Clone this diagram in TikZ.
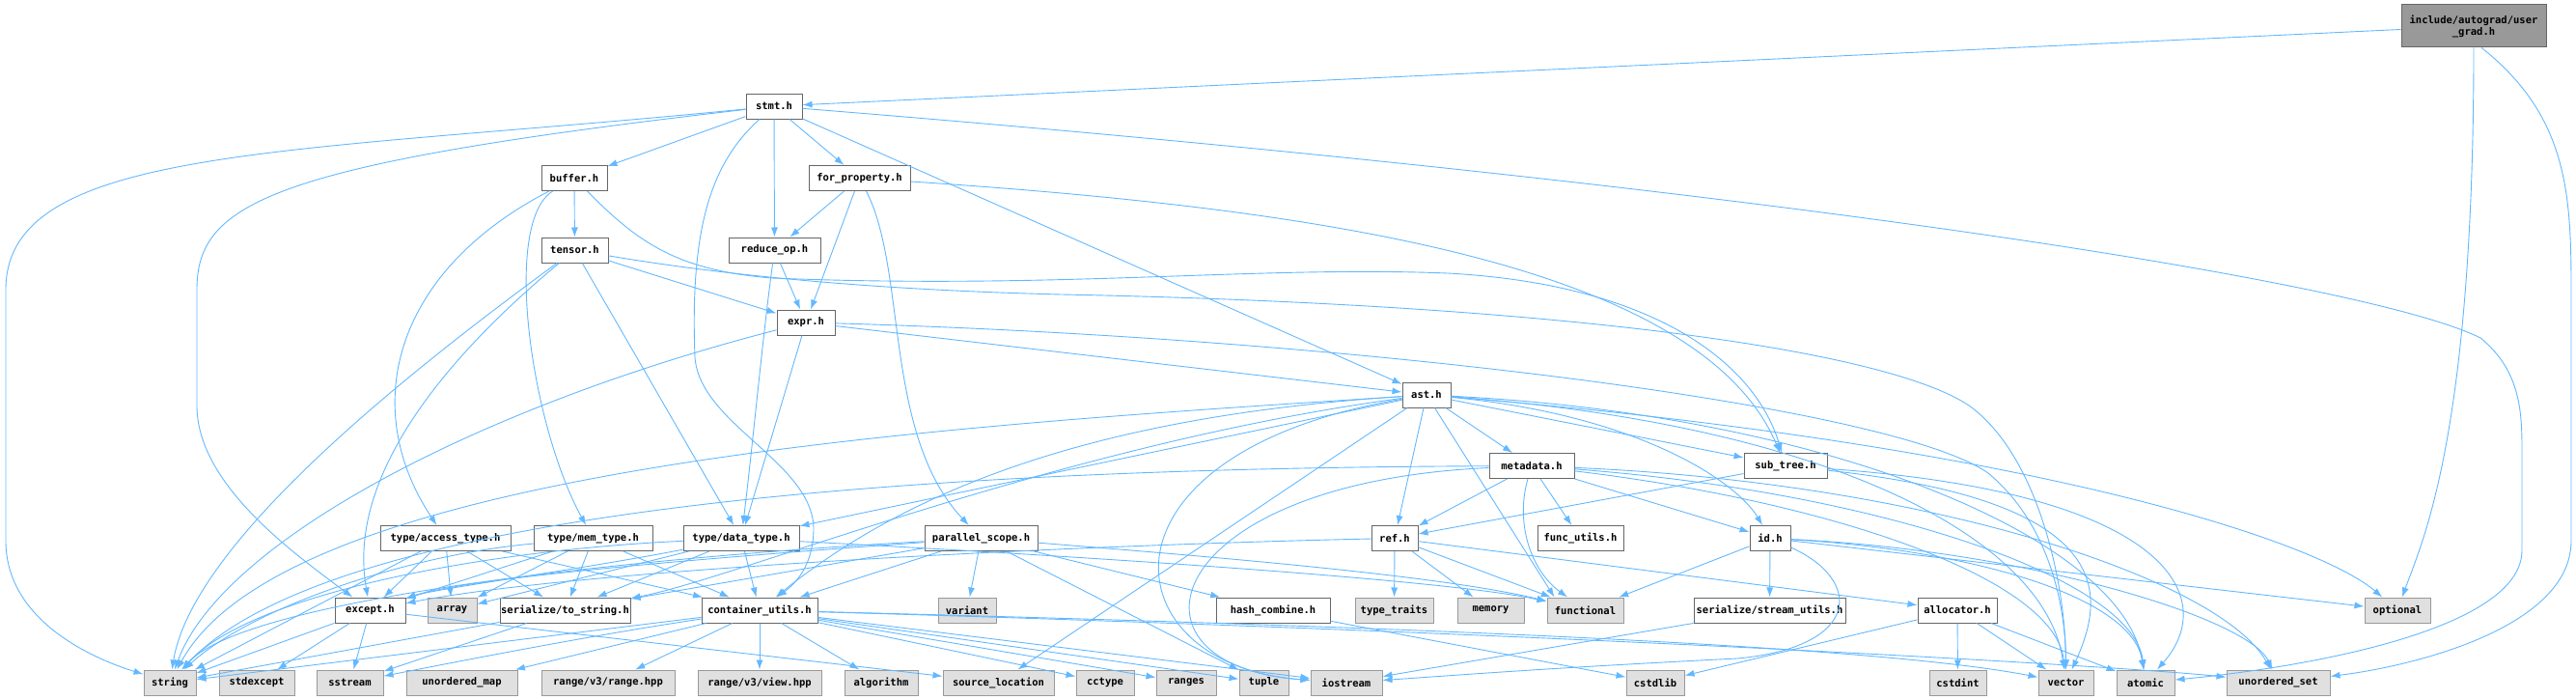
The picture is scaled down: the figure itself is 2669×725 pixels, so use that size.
\documentclass[tikz,border=0pt]{standalone}
\usepackage{fontspec}
\usetikzlibrary{arrows.meta}
\newfontfamily\dmono{DejaVu Sans Mono}
\definecolor{eblue}{HTML}{63B8FF}
\definecolor{bord}{HTML}{666666}
\definecolor{extb}{HTML}{999999}
\definecolor{extf}{HTML}{E0E0E0}
\begin{document}
\begin{tikzpicture}[x=1pt,y=-1pt,
  box/.style={draw=bord,fill=white,line width=1pt,inner sep=0pt,minimum height=26pt,
    font=\dmono\bfseries\fontsize{10.5}{12}\selectfont},
  ext/.style={box,draw=extb,fill=extf},
  rootbox/.style={box,fill=extb,draw=bord,align=center,minimum height=44pt,minimum width=150pt},
  e/.style={draw=eblue,line width=0.9pt,-{Latex[length=10pt,width=7pt]}}]
\useasboundingbox (0,0) rectangle (2669,725);
% nodes
\node[rootbox] (ug) at (2563,27) {include/autograd/user\\\_grad.h};
\node[box,minimum width=58pt] (stmt) at (802,110) {stmt.h};
\node[box,minimum width=68pt] (buffer) at (595,184.5) {buffer.h};
\node[box,minimum width=105pt] (fp) at (890.5,184.5) {for\_property.h};
\node[box,minimum width=69pt] (tensor) at (595.5,259) {tensor.h};
\node[box,minimum width=95pt] (reduce) at (802.5,259) {reduce\_op.h};
\node[box,minimum width=60pt] (expr) at (835,334) {expr.h};
\node[box,minimum width=50pt] (ast) at (1478,409) {ast.h};
\node[box,minimum width=88pt] (meta) at (1587,482.5) {metadata.h};
\node[box,minimum width=86pt] (subtree) at (1850,482.5) {sub\_tree.h};
\node[box,minimum width=135pt] (at) at (461.5,557.5) {type/access\_type.h};
\node[box,minimum width=123pt] (mt) at (614.5,557.5) {type/mem\_type.h};
\node[box,minimum width=120pt] (dt) at (768,557.5) {type/data\_type.h};
\node[box,minimum width=117pt] (ps) at (1016.5,557.5) {parallel\_scope.h};
\node[box,minimum width=48pt] (ref) at (1445,557.5) {ref.h};
\node[box,minimum width=89pt] (fu) at (1637.5,557.5) {func\_utils.h};
\node[box,minimum width=42pt] (id) at (1834,557.5) {id.h};
\node[box,minimum width=73pt] (except) at (383.5,632) {except.h};
\node[ext,minimum width=51pt] (array) at (468.5,632) {array};
\node[box,minimum width=135pt] (tostr) at (585.5,632) {serialize/to\_string.h};
\node[box,minimum width=120pt] (cu) at (787,632) {container\_utils.h};
\node[ext,minimum width=60pt] (variant) at (1002,632) {variant};
\node[box,minimum width=118pt] (hash) at (1319,632) {hash\_combine.h};
\node[ext,minimum width=81pt] (tt) at (1444.5,632) {type\_traits};
\node[ext,minimum width=69pt] (memory) at (1544.5,632) {memory};
\node[ext,minimum width=79pt] (functional) at (1642.5,632) {functional};
\node[box,minimum width=157pt] (su) at (1833.5,632) {serialize/stream\_utils.h};
\node[box,minimum width=82pt] (alloc) at (2028,632) {allocator.h};
\node[ext,minimum width=68pt] (optional) at (2484,632) {optional};
\node[ext,minimum width=54pt] (string) at (176,707) {string};
\node[ext,minimum width=78pt] (stdexcept) at (266,707) {stdexcept};
\node[ext,minimum width=69pt] (sstream) at (362.5,707) {sstream};
\node[ext,minimum width=115pt] (umap) at (478.5,707) {unordered\_map};
\node[ext,minimum width=138pt] (rangehpp) at (630,707) {range/v3/range.hpp};
\node[ext,minimum width=128pt] (viewhpp) at (787,707) {range/v3/view.hpp};
\node[ext,minimum width=76pt] (algorithm) at (913,707) {algorithm};
\node[ext,minimum width=115pt] (srcloc) at (1034.5,707) {source\_location};
\node[ext,minimum width=60pt] (cctype) at (1145,707) {cctype};
\node[ext,minimum width=62pt] (ranges) at (1229,707) {ranges};
\node[ext,minimum width=51pt] (tuple) at (1309.5,707) {tuple};
\node[ext,minimum width=74pt] (iostream) at (1395,707) {iostream};
\node[ext,minimum width=60pt] (cstdlib) at (1715,707) {cstdlib};
\node[ext,minimum width=59pt] (cstdint) at (2028.5,707) {cstdint};
\node[ext,minimum width=57pt] (vector) at (2140.5,707) {vector};
\node[ext,minimum width=60pt] (atomic) at (2223,707) {atomic};
\node[ext,minimum width=107pt] (uset) at (2360.5,707) {unordered\_set};
% edges: user_grad
\draw[e] (ug) -- (stmt);
\draw[e] (ug.south) .. controls (2563,450) and (2510,560) .. (optional);
\draw[e] (ug.-70) .. controls (2660,120) and (2664,200) .. (2664,300) -- (2664,560) .. controls (2664,650) and (2500,690) .. (uset);
% stmt
\draw[e] (stmt) .. controls (300,160) and (6,150) .. (6,300) -- (6,560) .. controls (6,640) and (90,680) .. (string);
\draw[e] (stmt) .. controls (280,170) and (204,210) .. (204,300) -- (204,420) .. controls (204,500) and (300,570) .. (except);
\draw[e] (stmt) -- (buffer);
\draw[e] (stmt) -- (fp);
\draw[e] (stmt) -- (reduce);
\draw[e] (stmt) -- (ast);
\draw[e] (stmt) .. controls (735,170) and (715,240) .. (720,370) .. controls (725,440) and (845,480) .. (843,550) .. controls (842,580) and (830,600) .. (cu);
\draw[e] (stmt) .. controls (1800,190) and (2450,290) .. (2570,350) .. controls (2613,385) and (2613,430) .. (2613,470) -- (2613,570) .. controls (2613,650) and (2400,690) .. (atomic);
% buffer
\draw[e] (buffer) -- (tensor);
\draw[e] (buffer) .. controls (410,280) and (370,420) .. (at);
\draw[e] (buffer) .. controls (520,230) and (550,440) .. (mt);
\draw[e] (buffer) .. controls (660,250) and (700,280) .. (800,288) .. controls (1100,300) and (1300,275) .. (1500,283) .. controls (1720,295) and (1820,380) .. (subtree);
% for_property
\draw[e] (fp) -- (reduce);
\draw[e] (fp) -- (expr);
\draw[e] (fp) .. controls (940,280) and (915,450) .. (ps);
\draw[e] (fp) .. controls (1350,215) and (1760,270) .. (subtree);
% tensor
\draw[e] (tensor) -- (expr);
\draw[e] (tensor) .. controls (430,380) and (200,560) .. (string);
\draw[e] (tensor) .. controls (450,380) and (360,500) .. (except);
\draw[e] (tensor) -- (dt);
\draw[e] (tensor) .. controls (750,285) and (900,300) .. (1100,305) .. controls (1600,315) and (1950,360) .. (2040,420) .. controls (2110,470) and (2140,600) .. (vector);
% reduce_op
\draw[e] (reduce) -- (expr);
\draw[e] (reduce) .. controls (790,350) and (780,460) .. (dt);
% expr
\draw[e] (expr) -- (ast);
\draw[e] (expr) .. controls (500,420) and (230,560) .. (string);
\draw[e] (expr) -- (dt);
\draw[e] (expr) .. controls (1400,350) and (1960,420) .. (2060,490) .. controls (2120,540) and (2140,620) .. (vector);
% ast
\draw[e] (ast) -- (meta);
\draw[e] (ast) -- (ref);
\draw[e] (ast) .. controls (1700,430) and (1800,500) .. (id);
\draw[e] (ast) -- (subtree);
\draw[e] (ast) -- ([xshift=8pt]functional.north west);
\draw[e] (ast) -- (srcloc);
\draw[e] (ast) .. controls (1120,470) and (1150,690) .. (iostream);
\draw[e] (ast) .. controls (1000,440) and (300,480) .. (string);
\draw[e] (ast) -- (dt);
\draw[e] (ast) .. controls (1100,460) and (760,600) .. (tostr);
\draw[e] (ast) .. controls (1150,430) and (950,500) .. (cu);
\draw[e] (ast) .. controls (1900,430) and (2200,560) .. (atomic);
\draw[e] (ast) .. controls (1900,440) and (2120,560) .. (vector);
\draw[e] (ast) .. controls (2100,460) and (2400,560) .. (optional);
% metadata
\draw[e] (meta) -- (ref);
\draw[e] (meta) -- (fu);
\draw[e] (meta) .. controls (1570,540) and (1585,590) .. (functional);
\draw[e] (meta) .. controls (1000,485) and (350,520) .. (string);
\draw[e] (meta) .. controls (1200,500) and (1150,690) .. (iostream);
\draw[e] (meta) -- (id);
\draw[e] (meta) .. controls (1900,520) and (2130,600) .. (vector);
\draw[e] (meta) .. controls (1950,510) and (2210,600) .. (atomic);
\draw[e] (meta) .. controls (2000,500) and (2300,600) .. (uset);
% sub_tree
\draw[e] (subtree) -- (ref);
\draw[e] (subtree) .. controls (2250,510) and (2300,620) .. (atomic);
\draw[e] (subtree) .. controls (2200,520) and (2180,620) .. (vector);
% ref
\draw[e] (ref) -- (tt);
\draw[e] (ref) -- (memory);
\draw[e] (ref) -- (functional);
\draw[e] (ref) -- (alloc);
\draw[e] (ref) .. controls (1100,565) and (600,590) .. (except);
% id
\draw[e] (id) -- (functional);
\draw[e] (id) -- (su);
\draw[e] (id) -- (optional);
\draw[e] (id) .. controls (1930,600) and (1930,670) .. (1800,682) .. controls (1600,692) and (1500,700) .. (iostream);
\draw[e] (id) .. controls (2050,570) and (2210,620) .. (atomic);
\draw[e] (id) .. controls (2100,570) and (2330,640) .. (uset);
% allocator
\draw[e] (alloc) -- (cstdlib);
\draw[e] (alloc) -- (cstdint);
\draw[e] (alloc) -- (vector);
\draw[e] (alloc) -- (atomic);
% misc
\draw[e] (su) -- (iostream);
\draw[e] (hash) -- (cstdlib);
% parallel_scope
\draw[e] (ps) -- (variant);
\draw[e] (ps) -- (hash);
\draw[e] (ps) -- (tuple);
\draw[e] (ps) -- (cu);
\draw[e] (ps) -- (tostr);
\draw[e] (ps) .. controls (700,580) and (480,600) .. (except);
\draw[e] (ps) .. controls (700,575) and (260,615) .. (string);
\draw[e] (ps) .. controls (1300,580) and (1500,598) .. (functional);
% data_type
\draw[e] (dt) -- (cu);
\draw[e] (dt) .. controls (600,590) and (450,610) .. (except);
\draw[e] (dt) -- (tostr);
\draw[e] (dt) -- (array);
\draw[e] (dt) .. controls (500,570) and (260,615) .. (string);
\draw[e] (dt) .. controls (1100,575) and (1500,600) .. (functional);
% access_type
\draw[e] (at) -- (except);
\draw[e] (at) -- (array);
\draw[e] (at) -- (tostr);
\draw[e] (at) -- (string);
\draw[e] (at) -- (cu);
% mem_type
\draw[e] (mt) -- (except);
\draw[e] (mt) -- (array);
\draw[e] (mt) -- (tostr);
\draw[e] (mt) .. controls (420,575) and (260,630) .. (string);
\draw[e] (mt) -- (cu);
% except
\draw[e] (except) -- (string);
\draw[e] (except) -- (stdexcept);
\draw[e] (except) -- (sstream);
\draw[e] (except) -- (srcloc);
% to_string
\draw[e] (tostr) -- (sstream);
\draw[e] (tostr) -- (string);
% container_utils
\draw[e] (cu) -- (string);
\draw[e] (cu) .. controls (600,660) and (450,690) .. (sstream);
\draw[e] (cu) -- (umap);
\draw[e] (cu) -- (rangehpp);
\draw[e] (cu) -- (viewhpp);
\draw[e] (cu) -- (algorithm);
\draw[e] (cu) -- (cctype);
\draw[e] (cu) -- (ranges);
\draw[e] (cu) -- (tuple);
\draw[e] (cu) -- (iostream);
\draw[e] (cu) .. controls (1500,650) and (1950,670) .. (vector);
\draw[e] (cu) .. controls (1600,655) and (2200,690) .. (uset);
\end{tikzpicture}
\end{document}
